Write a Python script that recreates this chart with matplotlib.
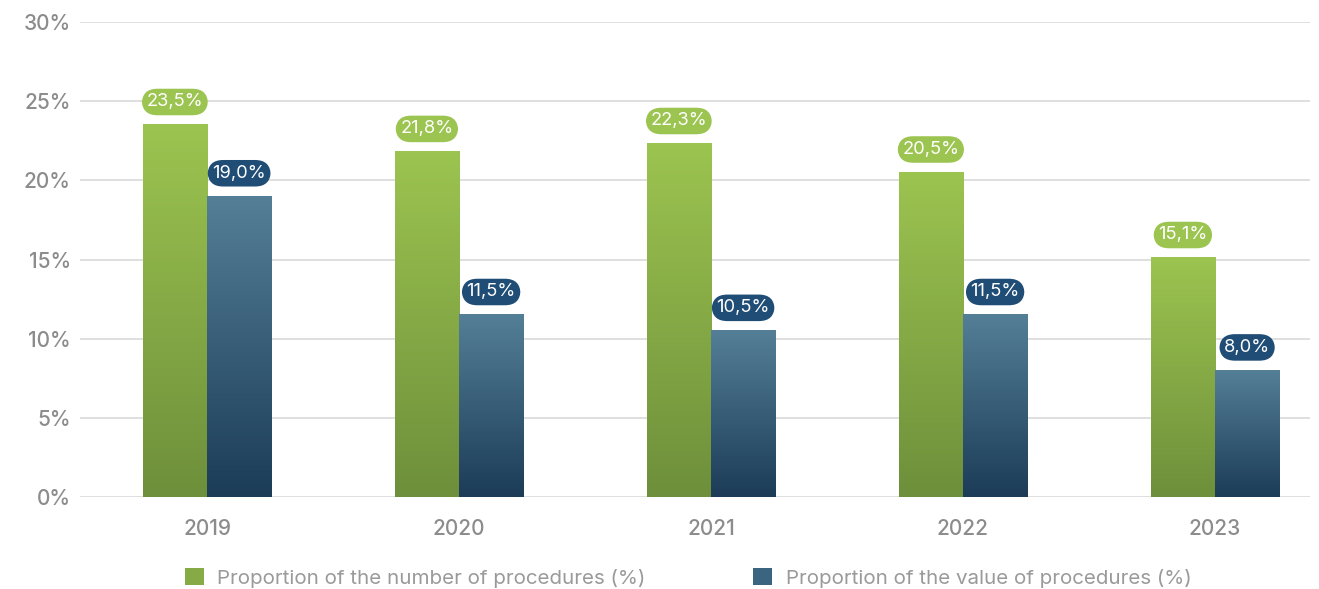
import matplotlib
matplotlib.use("Agg")
import matplotlib.pyplot as plt
import numpy as np
from matplotlib.colors import LinearSegmentedColormap
from matplotlib.patches import Rectangle

years = ["2019", "2020", "2021", "2022", "2023"]
number_share = [23.5, 21.8, 22.3, 20.5, 15.1]
value_share = [19.0, 11.5, 10.5, 11.5, 8.0]
yticks = [0, 5, 10, 15, 20, 25, 30]
series_names = ["Proportion of the number of procedures (%)",
                "Proportion of the value of procedures (%)"]

plt.rcParams['font.family'] = ['Inter', 'DejaVu Sans']

fig = plt.figure(figsize=(13.19, 5.89), dpi=100)
ax = fig.add_axes([80/1319, 92/589, (1310-80)/1319, (497-22)/589])

green_cmap = LinearSegmentedColormap.from_list("g", ["#6e8f3b", "#9cc450"])
blue_cmap = LinearSegmentedColormap.from_list("b", ["#1c3c57", "#547f97"])
green_solid = "#9cc450"
blue_solid = "#1f4d75"

w = 0.255
x = np.arange(len(years))
grad = np.linspace(0, 1, 256).reshape(-1, 1)

for i in range(len(years)):
    for val, off, cmap, pill in [(number_share[i], -w/2, green_cmap, green_solid),
                                 (value_share[i], w/2, blue_cmap, blue_solid)]:
        x0 = x[i] + off - w/2
        ax.imshow(grad, extent=[x0, x0 + w, 0, val], origin='lower', cmap=cmap,
                  aspect='auto', zorder=3, interpolation='bilinear')
        ax.annotate(f"{val:.1f}".replace(".", ",") + "%", (x[i] + off, val),
                    xytext=(0, 16.5), textcoords='offset points', ha='center', va='center',
                    color='white', fontsize=13.2, zorder=5,
                    bbox=dict(boxstyle='round,pad=0.26,rounding_size=0.85', fc=pill, ec='none'))

ax.set_xlim(-0.504, 4.377)
ax.set_ylim(0, 30)
ax.set_yticks(yticks)
ax.set_yticklabels([f"{t}%" for t in yticks])
ax.set_xticks(x)
ax.set_xticklabels(years)
ax.grid(axis='y', color='#d9d9d9', linewidth=1.2, zorder=0)
ax.set_axisbelow(True)
for s in ax.spines.values():
    s.set_visible(False)
ax.tick_params(axis='both', length=0, colors='#8c8c8c', labelsize=15)
ax.tick_params(axis='y', pad=6.5)
ax.tick_params(axis='x', pad=16)
for lbl in ax.get_xticklabels() + ax.get_yticklabels():
    lbl.set_fontweight('medium')

handles = [Rectangle((0, 0), 1, 1, fc="#86aa45"), Rectangle((0, 0), 1, 1, fc="#3a6480")]
leg = fig.legend(handles, series_names, loc='center', bbox_to_anchor=(688/1319, 1 - 578/589),
                 ncol=2, frameon=False, handlelength=0.92, handleheight=0.92,
                 columnspacing=5.2, handletextpad=0.68,
                 prop=dict(size=14.8))
for t in leg.get_texts():
    t.set_color('#9a9a9a')

fig.savefig("out.png", dpi=100)
